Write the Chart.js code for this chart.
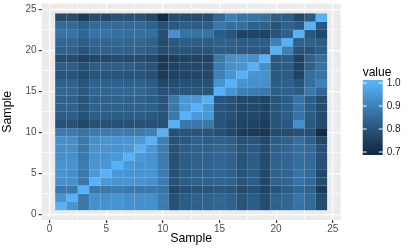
<!DOCTYPE html>
<html><head><meta charset="utf-8">
<script src="https://cdn.jsdelivr.net/npm/chart.js@4/dist/chart.umd.min.js"></script>
<style>html,body{margin:0;padding:0;background:#fff;}#wrap{width:415px;height:249px;position:relative;}</style>
</head><body><div id="wrap"><canvas id="c" width="415" height="249"></canvas></div>
<script>
// ---- data ----
const sampleIds = [1,2,3,4,5,6,7,8,9,10,11,12,13,14,15,16,17,18,19,20,21,22,23,24];
const axisTicks = [0,2.5,5,7.5,10,12.5,15,17.5,20,22.5,25];
const legendTicks = [0.7,0.8,0.9,1.0];
// lower triangle of the correlation matrix: row i (i = 2..24) holds values vs samples 1..i-1; diagonal = 1
const corrLower = [
 [0.94],
 [0.88,0.88],
 [0.93,0.93,0.88],
 [0.94,0.93,0.88,0.95],
 [0.94,0.94,0.89,0.94,0.95],
 [0.93,0.93,0.88,0.94,0.94,0.95],
 [0.93,0.93,0.88,0.94,0.94,0.94,0.95],
 [0.93,0.93,0.88,0.93,0.94,0.94,0.94,0.95],
 [0.89,0.89,0.87,0.89,0.89,0.89,0.89,0.89,0.90],
 [0.79,0.79,0.77,0.79,0.79,0.79,0.79,0.79,0.79,0.79],
 [0.82,0.82,0.79,0.82,0.82,0.82,0.82,0.82,0.81,0.80,0.88],
 [0.83,0.83,0.80,0.83,0.83,0.83,0.83,0.83,0.83,0.80,0.88,0.95],
 [0.83,0.83,0.80,0.83,0.83,0.83,0.83,0.83,0.82,0.80,0.88,0.95,0.95],
 [0.84,0.84,0.81,0.84,0.84,0.84,0.84,0.84,0.83,0.79,0.80,0.80,0.80,0.80],
 [0.83,0.83,0.80,0.83,0.83,0.83,0.83,0.83,0.82,0.77,0.78,0.79,0.79,0.79,0.94],
 [0.80,0.80,0.78,0.80,0.80,0.80,0.80,0.80,0.79,0.74,0.76,0.77,0.77,0.77,0.90,0.94],
 [0.82,0.82,0.79,0.82,0.82,0.82,0.82,0.81,0.80,0.74,0.76,0.77,0.77,0.77,0.89,0.93,0.94],
 [0.78,0.78,0.76,0.77,0.77,0.78,0.78,0.78,0.77,0.73,0.75,0.76,0.76,0.76,0.88,0.93,0.94,0.93],
 [0.83,0.83,0.80,0.83,0.83,0.83,0.83,0.83,0.82,0.78,0.80,0.80,0.80,0.80,0.82,0.82,0.81,0.81,0.81],
 [0.84,0.84,0.82,0.84,0.84,0.84,0.84,0.84,0.83,0.78,0.81,0.82,0.82,0.82,0.83,0.83,0.82,0.82,0.82,0.90],
 [0.87,0.87,0.84,0.87,0.87,0.86,0.86,0.86,0.86,0.79,0.93,0.87,0.87,0.87,0.82,0.80,0.76,0.76,0.76,0.80,0.83],
 [0.85,0.85,0.83,0.85,0.85,0.85,0.85,0.85,0.83,0.79,0.81,0.82,0.82,0.82,0.88,0.86,0.86,0.83,0.83,0.80,0.83,0.81],
 [0.78,0.78,0.74,0.78,0.77,0.79,0.79,0.79,0.77,0.70,0.78,0.78,0.78,0.78,0.84,0.90,0.87,0.87,0.86,0.82,0.82,0.77,0.81]
];

// ---- build full symmetric cell list ----
function corrAt(i, j) { // 1-based
  if (i === j) return 1;
  if (i < j) { const t = i; i = j; j = t; }
  return corrLower[i - 2][j - 1];
}
const cells = [];
sampleIds.forEach(xi => sampleIds.forEach(yi => cells.push({x: xi, y: yi, v: corrAt(xi, yi)})));
const vMin = Math.min(...cells.map(c => c.v));
const vMax = Math.max(...cells.map(c => c.v));

// ---- ggplot-like Lab gradient #132B43 -> #56B1F7 ----
function hex2rgb(h){return [1,3,5].map(k=>parseInt(h.substr(k,2),16)/255);}
function lin(c){return c<=0.04045?c/12.92:Math.pow((c+0.055)/1.055,2.4);}
function unlin(c){return c<=0.0031308?12.92*c:1.055*Math.pow(c,1/2.4)-0.055;}
const WX=0.95047, WY=1, WZ=1.08883;
function fLab(t){return t>0.008856?Math.cbrt(t):7.787*t+16/116;}
function fInv(t){const t3=t*t*t;return t3>0.008856?t3:(t-16/116)/7.787;}
function rgb2lab(rgb){const [r,g,b]=rgb.map(lin);
  const X=0.4124564*r+0.3575761*g+0.1804375*b, Y=0.2126729*r+0.7151522*g+0.0721750*b, Z=0.0193339*r+0.1191920*g+0.9503041*b;
  const fx=fLab(X/WX), fy=fLab(Y/WY), fz=fLab(Z/WZ);
  return [116*fy-16, 500*(fx-fy), 200*(fy-fz)];}
function lab2rgb(lab){const fy=(lab[0]+16)/116, fx=fy+lab[1]/500, fz=fy-lab[2]/200;
  const X=WX*fInv(fx), Y=WY*fInv(fy), Z=WZ*fInv(fz);
  const r= 3.2404542*X-1.5371385*Y-0.4985314*Z, g=-0.9692660*X+1.8760108*Y+0.0415560*Z, b=0.0556434*X-0.2040259*Y+1.0572252*Z;
  return [r,g,b].map(c=>Math.round(Math.min(1,Math.max(0,unlin(c)))*255));}
const labLo = rgb2lab(hex2rgb('#132B43')), labHi = rgb2lab(hex2rgb('#56B1F7'));
function colorFor(v){let t=(v-vMin)/(vMax-vMin); t=Math.max(0,Math.min(1,t));
  const c=lab2rgb([0,1,2].map(k=>labLo[k]+(labHi[k]-labLo[k])*t)); return 'rgb('+c.join(',')+')';}

const FONT = "'Liberation Sans', Arial, Helvetica, sans-serif";

const panelBg = {
  id: 'panelBg',
  beforeDraw(chart){const a=chart.chartArea, ctx=chart.ctx; ctx.save(); ctx.fillStyle='#EBEBEB';
    ctx.fillRect(a.left,a.top,a.right-a.left,a.bottom-a.top); ctx.restore();}
};
const tiles = {
  id: 'tiles',
  beforeDatasetsDraw(chart){
    const xs=chart.scales.x, ys=chart.scales.y, ctx=chart.ctx;
    const data=chart.data.datasets[0].data;
    ctx.save();
    data.forEach(d=>{
      const x0=xs.getPixelForValue(d.x-0.5), x1=xs.getPixelForValue(d.x+0.5);
      const y0=ys.getPixelForValue(d.y+0.5), y1=ys.getPixelForValue(d.y-0.5);
      ctx.fillStyle=colorFor(d.v); ctx.fillRect(x0,y0,x1-x0,y1-y0);
    });
    ctx.restore();
  }
};
const colorbar = {
  id: 'colorbar',
  afterDraw(chart){
    const ctx=chart.ctx; ctx.save();
    const bx=362.7, bw=20, top=80, bot=155, inset=3;
    const H=bot-top;
    const yOf=v=>top+inset+(vMax-v)/(vMax-vMin)*(H-2*inset);
    for(let y=top;y<bot;y++){
      const v=vMax-((y+0.5-top-inset)/(H-2*inset))*(vMax-vMin);
      ctx.fillStyle=colorFor(v); ctx.fillRect(bx,y,bw,1);
    }
    ctx.strokeStyle='#ffffff'; ctx.lineWidth=1;
    ctx.fillStyle='#1a1a1a'; ctx.font='10px '+FONT; ctx.textAlign='left'; ctx.textBaseline='middle';
    legendTicks.forEach(v=>{
      const y=yOf(v);
      ctx.beginPath(); ctx.moveTo(bx,y); ctx.lineTo(bx+4,y); ctx.moveTo(bx+bw-4,y); ctx.lineTo(bx+bw,y); ctx.stroke();
      ctx.fillText(v.toFixed(1), bx+bw+4, y+0.5);
    });
    ctx.fillStyle='#000';
    ctx.font='12px '+FONT; ctx.textBaseline='middle';
    ctx.fillText('value', bx, 73);
    ctx.restore();
  }
};

function axisCfg(title, isX){
  return {
    type:'linear', min:-0.7, max:25.7,
    afterBuildTicks:s=>{s.ticks=axisTicks.map(v=>({value:v}));},
    afterFit:s=>{ if(isX){s.height=29; s.paddingLeft=0; s.paddingRight=0;} else {s.width=41.6; s.paddingTop=0; s.paddingBottom=0;} },
    border:{display:false},
    grid:{
      color:'#FFFFFF',
      lineWidth:c=>(c.tick && c.tick.value%5===0)?1.2:0.6,
      drawTicks:true, tickLength:3,
      tickColor:c=>(c.tick && c.tick.value%5===0)?'#333333':'rgba(0,0,0,0)',
      tickWidth:1.1
    },
    ticks:{
      autoSkip:false, maxRotation:0,
      color:'#4D4D4D', font:{family:FONT,size:10}, padding: isX?0:2,
      callback:v=>(v%5===0)?String(v):''
    },
    title:{display:true,text:title,color:'#000',font:{family:FONT,size:12.4},
      padding: isX?{top:0,bottom:2.5}:{top:0,bottom:3}}
  };
}

new Chart(document.getElementById('c'), {
  type:'scatter',
  data:{datasets:[{data:cells, pointRadius:0, pointHoverRadius:0}]},
  options:{
    responsive:false, animation:false, devicePixelRatio:1,
    layout:{padding:{top:3.6,right:74.3,left:0,bottom:0}},
    plugins:{legend:{display:false},tooltip:{enabled:false}},
    scales:{x:axisCfg('Sample',true), y:axisCfg('Sample',false)}
  },
  plugins:[panelBg,tiles,colorbar]
});
</script></body></html>
